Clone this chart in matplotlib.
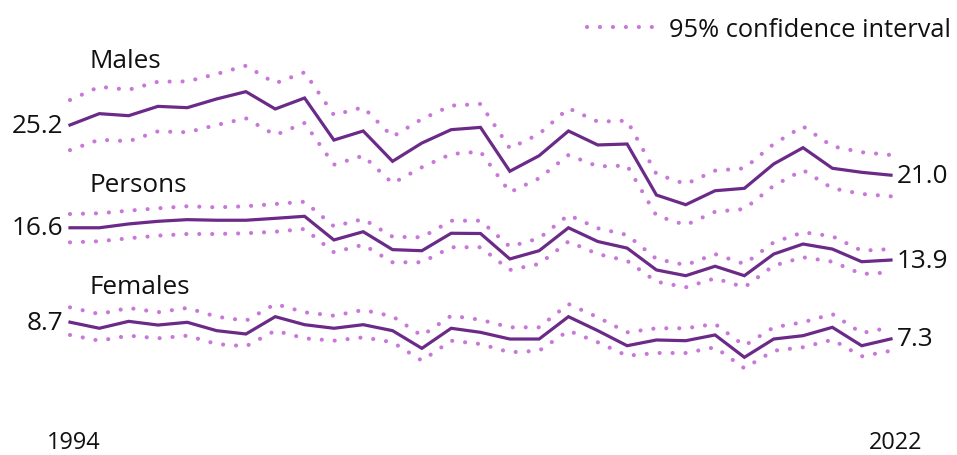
import matplotlib
matplotlib.use("Agg")
import matplotlib.pyplot as plt
from matplotlib.lines import Line2D

years = list(range(1994, 2023))

males = [25.2, 26.15, 25.98, 26.76, 26.65, 27.38, 27.99, 26.54, 27.46, 23.94, 24.70, 22.16, 23.69, 24.81, 25.0,
         21.33, 22.63, 24.70, 23.53, 23.61, 19.34, 18.53, 19.70, 19.90, 21.94, 23.30, 21.58, 21.24, 21.0]
males_hi = [27.29, 28.4, 28.15, 28.82, 28.85, 29.47, 30.16, 28.69, 29.61, 26.04, 26.68, 24.22, 25.7, 26.82, 26.96,
            23.25, 24.45, 26.6, 25.48, 25.56, 21.1, 20.26, 21.38, 21.58, 23.61, 25.09, 23.42, 22.92, 22.69]
males_lo = [23.1, 23.97, 23.84, 24.67, 24.59, 25.2, 25.76, 24.36, 25.37, 21.88, 22.63, 20.32, 21.66, 22.77, 22.97,
            19.57, 20.74, 22.69, 21.74, 21.8, 17.61, 16.83, 17.94, 18.17, 20.12, 21.43, 19.9, 19.43, 19.23]

persons = [16.6, 16.6, 16.92, 17.14, 17.28, 17.23, 17.23, 17.39, 17.56, 15.58, 16.27, 14.77, 14.68, 16.14, 16.12,
           13.99, 14.68, 16.6, 15.45, 14.9, 13.07, 12.59, 13.38, 12.59, 14.4, 15.24, 14.82, 13.76, 13.9]
persons_hi = [17.75, 17.81, 18.03, 18.23, 18.4, 18.31, 18.4, 18.59, 18.78, 16.72, 17.33, 15.85, 15.8, 17.19, 17.19,
              15.02, 15.72, 17.67, 16.56, 16.0, 13.99, 13.48, 14.4, 13.57, 15.38, 16.22, 15.89, 14.68, 14.82]
persons_lo = [15.38, 15.47, 15.72, 15.94, 16.08, 16.08, 16.14, 16.27, 16.5, 14.55, 15.18, 13.71, 13.71, 14.97, 14.97,
              13.07, 13.57, 15.45, 14.4, 13.84, 12.09, 11.62, 12.37, 11.62, 13.43, 14.13, 13.76, 12.73, 12.87]

females = [8.7, 8.19, 8.77, 8.46, 8.69, 7.99, 7.71, 9.16, 8.49, 8.19, 8.49, 7.99, 6.51, 8.19, 7.85,
           7.29, 7.29, 9.16, 7.99, 6.73, 7.21, 7.15, 7.63, 5.76, 7.29, 7.57, 8.27, 6.73, 7.3]
females_hi = [9.94, 9.38, 9.89, 9.53, 9.89, 9.16, 8.82, 10.22, 9.53, 9.24, 9.72, 9.19, 7.57, 9.24, 8.9,
              8.27, 8.27, 10.22, 9.11, 7.85, 8.19, 8.19, 8.55, 6.73, 8.27, 8.69, 9.38, 7.79, 8.27]
females_lo = [7.63, 7.15, 7.57, 7.35, 7.57, 6.87, 6.68, 7.99, 7.35, 7.15, 7.43, 7.02, 5.48, 7.15, 6.87,
              6.18, 6.31, 7.99, 7.02, 5.89, 6.12, 6.12, 6.6, 4.84, 6.31, 6.6, 7.23, 5.84, 6.31]

series_names = ["Males", "Persons", "Females"]
legend_label = "95% confidence interval"

MAIN = "#6c2a88"
CI = "#c878d8"
FONT = ["Open Sans", "DejaVu Sans"]
FS = 18.8

plt.rcParams["font.family"] = FONT

fig = plt.figure(figsize=(9.57, 4.56), dpi=100)
ax = fig.add_axes([70 / 957, 0, 821 / 957, 1])
ax.set_xlim(1994, 2022)
ax.set_ylim(25.2 - 330 / 11.95, 25.2 + 126 / 11.95)
ax.axis("off")

dot_style = dict(color=CI, lw=3.0, linestyle=(0, (0.01, 3.1)), dash_capstyle="round", solid_capstyle="round")

data = [(males, males_hi, males_lo), (persons, persons_hi, persons_lo), (females, females_hi, females_lo)]
for name, (m, hi, lo) in zip(series_names, data):
    ax.plot(years, hi, **dot_style, clip_on=False)
    ax.plot(years, lo, **dot_style, clip_on=False)
    ax.plot(years, m, color=MAIN, lw=2.3, solid_joinstyle="miter", clip_on=False)
    ax.annotate(f"{m[0]:.1f}", xy=(years[0], m[0]), xytext=(-5, 0), textcoords="offset points",
                ha="right", va="center", fontsize=FS, color="#111111")
    ax.annotate(f"{m[-1]:.1f}", xy=(years[-1], m[-1]), xytext=(4, 0), textcoords="offset points",
                ha="left", va="center", fontsize=FS, color="#111111")

# series name labels
label_y = {"Males": 62, "Persons": 186, "Females": 288}
for name in series_names:
    fig.text(90 / 957, 1 - label_y[name] / 456, name, ha="left", va="center", fontsize=FS, color="#111111")

# year labels
for yr in (years[0], years[-1]):
    ax.annotate(str(yr), xy=(yr, 0), xycoords=("data", "axes fraction"), xytext=(3, 1),
                textcoords="offset points", ha="center", va="bottom", fontsize=FS * 0.9, color="#111111",
                annotation_clip=False)

handle = Line2D([], [], **dot_style)
leg = fig.legend(handles=[handle], labels=[legend_label], loc="upper right",
                 bbox_to_anchor=(1.0 + 7 / 957, 1.0 - 5 / 456), frameon=False, fontsize=FS * 0.97,
                 handlelength=2.8, handletextpad=0.45, borderaxespad=0.1)
for t in leg.get_texts():
    t.set_color("#111111")

fig.savefig("out.png", dpi=100)
